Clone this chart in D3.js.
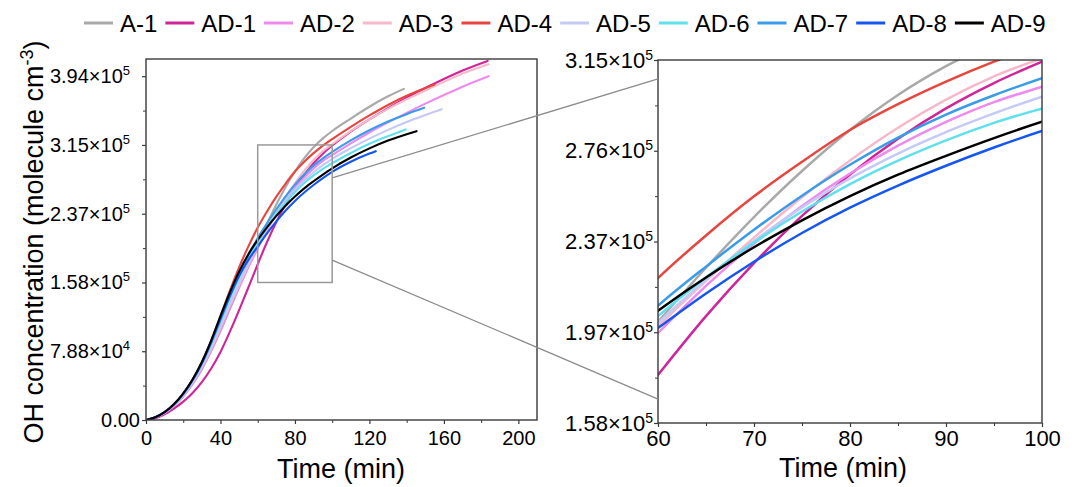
<!DOCTYPE html>
<html>
<head>
<meta charset="utf-8">
<script src="https://cdn.jsdelivr.net/npm/d3@7"></script>
<style>
  body { margin: 0; background: #fff; }
  text { font-family: "Liberation Sans", Arial, sans-serif; fill: #000; }
</style>
</head>
<body>
<svg id="chart" width="1077" height="487"></svg>
<script>
// Series names and colours
const seriesNames = ["A-1", "AD-1", "AD-2", "AD-3", "AD-4", "AD-5", "AD-6", "AD-7", "AD-8", "AD-9"];
const seriesColors = ["#a9a9a9", "#cf2598", "#ee8aee", "#f7b9c9", "#e8453f", "#c4c9f5", "#5fe0ef", "#3a9ce9", "#1656f0", "#000000"];

// Time (min) grid shared by all runs up to 100 min
const timeGrid = [0, 5, 10, 15, 20, 25, 30, 35, 40, 45, 50, 55, 60, 65, 70, 75, 80, 85, 90, 95, 100];

// OH concentration (molecule cm-3)
const a1Time = [...timeGrid, 110, 120, 130, 138.5];
const a1Conc = [0, 2800, 8000, 16000, 27000, 41000, 58000, 79000, 102000, 127000, 152000, 177000, 201500, 225000, 247000, 267000, 284800, 300000, 312500, 322700, 331200, 345500, 359000, 371000, 379500];

const ad1Time = [...timeGrid, 110, 120, 130, 140, 150, 160, 170, 183.5];
const ad1Conc = [0, 2000, 6500, 13000, 21000, 31000, 43500, 59000, 78000, 101000, 126000, 152000, 178500, 204000, 227000, 247500, 265500, 281000, 294200, 305200, 314500, 330500, 344500, 357500, 369500, 380500, 390800, 400500, 411500];

const ad2Time = [...timeGrid, 110, 120, 130, 140, 150, 160, 170, 184];
const ad2Conc = [0, 2800, 8000, 16000, 27000, 41500, 59000, 80000, 103000, 128000, 152000, 175000, 196600, 217100, 235500, 251800, 265900, 278000, 288300, 296900, 303600, 317000, 329500, 341000, 352000, 362500, 372500, 382000, 394000];

const ad3Time = [...timeGrid, 110, 120, 130, 140, 150, 160, 170, 184];
const ad3Conc = [0, 3000, 8500, 16500, 28000, 43000, 61000, 82000, 106000, 131000, 155000, 178000, 199500, 219300, 238100, 255600, 271600, 285800, 298000, 308100, 316000, 331000, 344500, 356500, 367500, 377500, 387500, 397000, 407700];

const ad4Time = [...timeGrid, 110, 120, 130, 140, 155];
const ad4Conc = [0, 3100, 9000, 18000, 30000, 46000, 66000, 91000, 119000, 148000, 175000, 199000, 220500, 239000, 256000, 271000, 284800, 296000, 305800, 314500, 322000, 336000, 349000, 361000, 371500, 384500];

const ad5Time = [...timeGrid, 110, 120, 130, 140, 150, 158.8];
const ad5Conc = [0, 3000, 8500, 17000, 28500, 43500, 62000, 84000, 108000, 133000, 157000, 180000, 201000, 219800, 236600, 251200, 263800, 274600, 283900, 292000, 299300, 311500, 322500, 332500, 341500, 349500, 356200];

const ad6Time = [...timeGrid, 110, 120, 130, 139.5];
const ad6Conc = [0, 3000, 9000, 17500, 29500, 45000, 64000, 87000, 113000, 139000, 163000, 185000, 204000, 220800, 235900, 249400, 261300, 271500, 280300, 287900, 294200, 306000, 316500, 325300, 333000];

const ad7Time = [...timeGrid, 110, 120, 130, 140, 149.4];
const ad7Conc = [0, 3000, 9000, 18000, 30000, 46000, 66000, 90000, 115000, 142000, 167000, 189000, 208500, 225500, 241500, 256300, 269700, 281500, 291500, 299900, 307300, 320500, 332000, 342000, 350500, 357700];

const ad8Time = [...timeGrid, 110, 120, 123.4];
const ad8Conc = [0, 3100, 8900, 17800, 30000, 45500, 65000, 89000, 116000, 142000, 165000, 183500, 198800, 213800, 227600, 240100, 251100, 260700, 269300, 277200, 284400, 296000, 305300, 308100];

const ad9Time = [...timeGrid, 110, 120, 130, 140, 145.3];
const ad9Conc = [0, 3200, 9000, 18000, 30500, 46500, 66500, 91000, 119000, 146000, 170000, 190000, 206300, 220800, 233900, 245600, 256100, 265400, 273600, 281300, 288400, 300800, 311300, 320200, 327600, 331000];

// Axis ticks
const leftXTicks = [0, 40, 80, 120, 160, 200];
const leftYTicks = [0, 78800, 157600, 236400, 315200, 394000];
const leftYMant = ["0.00", "7.88", "1.58", "2.37", "3.15", "3.94"];
const leftYExp = ["", "4", "5", "5", "5", "5"];
const rightXTicks = [60, 70, 80, 90, 100];
const rightYTicks = [157600, 197000, 236400, 275800, 315200];
const rightYMant = ["1.58", "1.97", "2.37", "2.76", "3.15"];
const rightYExp = ["5", "5", "5", "5", "5"];

// Zoom window shown in the right panel
const zoomTime = [60, 100];
const zoomConc = [157600, 315200];

const seriesTimes = [a1Time, ad1Time, ad2Time, ad3Time, ad4Time, ad5Time, ad6Time, ad7Time, ad8Time, ad9Time];
const seriesConc = [a1Conc, ad1Conc, ad2Conc, ad3Conc, ad4Conc, ad5Conc, ad6Conc, ad7Conc, ad8Conc, ad9Conc];

const series = seriesNames.map((name, i) => ({
  name: name,
  color: seriesColors[i],
  values: seriesTimes[i].map((t, j) => ({ t: t, v: seriesConc[i][j] }))
}));

const svg = d3.select("#chart");
const frameColor = "#3a3a3a";

// put a x10^n on tick labels
function expLabels(g, mant, exps, shift, supSize) {
  g.selectAll(".tick text").each(function (d, i) {
    const t = d3.select(this).text(null);
    t.append("tspan").text(mant[i] + (exps[i] ? "×10" : ""));
    if (exps[i]) {
      t.append("tspan").attr("dy", -8).style("font-size", supSize + "px").text(exps[i]);
      t.attr("dx", shift);
    }
  });
}

function drawPanel(p) {
  const x = d3.scaleLinear().domain(p.xDomain).range([p.left, p.right]);
  const y = d3.scaleLinear().domain(p.yDomain).range([p.bottom, p.top]);
  const g = svg.append("g");

  // lines
  const clipId = "clip-" + p.id;
  g.append("clipPath").attr("id", clipId)
    .append("rect")
    .attr("x", p.left).attr("y", p.top)
    .attr("width", p.right - p.left).attr("height", p.bottom - p.top);

  const line = d3.line()
    .x(d => x(d.t))
    .y(d => y(d.v))
    .curve(d3.curveMonotoneX);

  g.append("g")
    .attr("clip-path", `url(#${clipId})`)
    .selectAll("path")
    .data(series)
    .join("path")
    .attr("d", d => line(d.values))
    .attr("fill", "none")
    .attr("stroke", d => d.color)
    .attr("stroke-width", p.lineWidth)
    .attr("stroke-linecap", "round");

  // minor ticks
  const xMinor = p.xTicks.slice(0, -1).map((v, i) => (v + p.xTicks[i + 1]) / 2);
  const yMinor = p.yTicks.slice(0, -1).map((v, i) => (v + p.yTicks[i + 1]) / 2);
  g.append("g")
    .attr("transform", `translate(0,${p.bottom})`)
    .call(d3.axisBottom(x).tickValues(xMinor).tickSize(3).tickFormat(""))
    .call(a => a.select(".domain").remove())
    .call(a => a.selectAll("line").attr("stroke", frameColor));
  g.append("g")
    .attr("transform", `translate(${p.left},0)`)
    .call(d3.axisLeft(y).tickValues(yMinor).tickSize(3).tickFormat(""))
    .call(a => a.select(".domain").remove())
    .call(a => a.selectAll("line").attr("stroke", frameColor));

  // major ticks
  g.append("g")
    .attr("transform", `translate(0,${p.bottom})`)
    .call(d3.axisBottom(x).tickValues(p.xTicks).tickSize(4).tickPadding(p.xPad).tickFormat(d3.format("d")))
    .call(a => a.select(".domain").remove())
    .call(a => a.selectAll("line").attr("stroke", frameColor).attr("stroke-width", 1.2))
    .call(a => a.selectAll("text").style("font-size", p.fontSize + "px").attr("fill", "#000"));
  g.append("g")
    .attr("transform", `translate(${p.left},0)`)
    .call(d3.axisLeft(y).tickValues(p.yTicks).tickSize(4).tickPadding(p.yPad))
    .call(a => a.select(".domain").remove())
    .call(a => a.selectAll("line").attr("stroke", frameColor).attr("stroke-width", 1.2))
    .call(a => a.selectAll("text").style("font-size", p.fontSize + "px").attr("fill", "#000"))
    .call(a => expLabels(a, p.yMant, p.yExp, p.expShift, p.supSize));

  // frame
  g.append("rect")
    .attr("x", p.left).attr("y", p.top)
    .attr("width", p.right - p.left).attr("height", p.bottom - p.top)
    .attr("fill", "none")
    .attr("stroke", frameColor)
    .attr("stroke-width", 1.4);

  // x title
  g.append("text")
    .attr("x", p.titleX).attr("y", p.titleY)
    .attr("text-anchor", "middle")
    .style("font-size", "27px")
    .text("Time (min)");

  return { x, y };
}

const leftPanel = drawPanel({
  id: "left", left: 146, right: 537, top: 59, bottom: 420,
  xDomain: [0, 210], yDomain: [0, 413700],
  xTicks: leftXTicks, yTicks: leftYTicks, yMant: leftYMant, yExp: leftYExp,
  xPad: 7, yPad: 2, expShift: -10, lineWidth: 2.1, fontSize: 20, supSize: 13,
  titleX: 341, titleY: 478
});

const rightPanel = drawPanel({
  id: "right", left: 658, right: 1042, top: 60, bottom: 423,
  xDomain: zoomTime, yDomain: zoomConc,
  xTicks: rightXTicks, yTicks: rightYTicks, yMant: rightYMant, yExp: rightYExp,
  xPad: 3, yPad: 1, expShift: 0, lineWidth: 2.5, fontSize: 22, supSize: 14,
  titleX: 843, titleY: 477
});

// zoom box on the left panel
const lx = leftPanel.x, ly = leftPanel.y;
svg.append("rect")
  .attr("x", lx(zoomTime[0]))
  .attr("y", ly(zoomConc[1]))
  .attr("width", lx(zoomTime[1]) - lx(zoomTime[0]))
  .attr("height", ly(zoomConc[0]) - ly(zoomConc[1]))
  .attr("fill", "none")
  .attr("stroke", "#9a9a9a")
  .attr("stroke-width", 1.5);

// connector lines from the box to the zoomed panel
const connectFrom = [277500, 183300];
const connectTo = [307000, 168000];
svg.selectAll(".connector")
  .data(connectFrom)
  .join("line")
  .attr("x1", lx(zoomTime[1]))
  .attr("y1", d => ly(d))
  .attr("x2", rightPanel.x(zoomTime[0]))
  .attr("y2", (d, i) => rightPanel.y(connectTo[i]))
  .attr("stroke", "#8c8c8c")
  .attr("stroke-width", 1.3);

// y axis title
const yTitle = svg.append("text")
  .attr("transform", "translate(43,242) rotate(-90)")
  .attr("text-anchor", "middle")
  .style("font-size", "27px");
yTitle.append("tspan").text("OH concentration (molecule cm");
yTitle.append("tspan").attr("dy", -10).style("font-size", "18px").text("-3");
yTitle.append("tspan").attr("dy", 10).text(")");

// legend
const legend = svg.append("g");
let lxPos = 84;
series.forEach(s => {
  legend.append("line")
    .attr("x1", lxPos).attr("x2", lxPos + 29)
    .attr("y1", 23).attr("y2", 23)
    .attr("stroke", s.color)
    .attr("stroke-width", 3);
  const t = legend.append("text")
    .attr("x", lxPos + 36).attr("y", 32)
    .style("font-size", "24px")
    .text(s.name);
  lxPos += 36 + t.node().getComputedTextLength() + 8;
});
</script>
</body>
</html>
